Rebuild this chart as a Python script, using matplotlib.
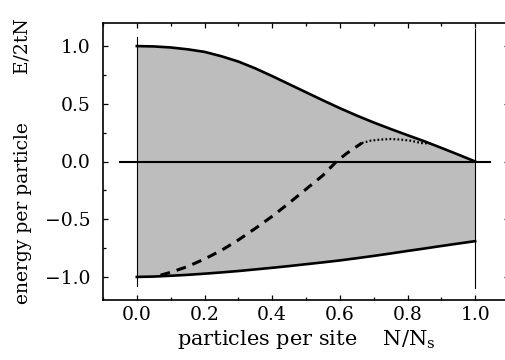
import matplotlib
matplotlib.use("Agg")
import matplotlib.pyplot as plt
from matplotlib.ticker import MultipleLocator

# Data
n_grid = [0.0, 0.05, 0.1, 0.15, 0.2, 0.25, 0.3, 0.35, 0.4, 0.45, 0.5,
          0.55, 0.6, 0.65, 0.7, 0.75, 0.8, 0.85, 0.9, 0.95, 1.0]
upper = [1.0, 0.997, 0.988, 0.972, 0.95, 0.912, 0.866, 0.807, 0.74, 0.67, 0.60,
         0.53, 0.462, 0.398, 0.338, 0.282, 0.228, 0.175, 0.118, 0.06, 0.0]
lower = [-1.0, -0.997, -0.99, -0.982, -0.972, -0.961, -0.949, -0.935, -0.921, -0.906, -0.89,
         -0.874, -0.857, -0.838, -0.818, -0.797, -0.775, -0.754, -0.732, -0.711, -0.69]

n_dashed = [0.07, 0.1, 0.15, 0.2, 0.25, 0.3, 0.35, 0.4, 0.45, 0.5, 0.55, 0.59, 0.62, 0.665]
e_dashed = [-0.985, -0.96, -0.91, -0.845, -0.77, -0.68, -0.58, -0.475, -0.36, -0.24, -0.12, 0.0, 0.07, 0.16]

n_dotted = [0.665, 0.69, 0.72, 0.75, 0.78, 0.81, 0.84, 0.87]
e_dotted = [0.16, 0.18, 0.19, 0.195, 0.19, 0.18, 0.16, 0.155]

x_ticks = [0.0, 0.2, 0.4, 0.6, 0.8, 1.0]
y_ticks = [-1.0, -0.5, 0.0, 0.5, 1.0]

plt.rcParams['font.family'] = ['DejaVu Serif']
plt.rcParams['font.size'] = 13.5

fig = plt.figure(figsize=(5.05, 3.6), dpi=100)
ax = fig.add_axes([103/505, 60/360, 406/505, 277/360])

ax.fill_between(n_grid, lower, upper, color='#bdbdbd', linewidth=0, zorder=1)
ax.plot(n_grid, upper, color='black', lw=1.9, zorder=3)
ax.plot(n_grid, lower, color='black', lw=1.9, zorder=3)
ax.plot([-0.05, 1.045], [0, 0], color='black', lw=1.5, zorder=3)
ax.plot([0, 0], [-1.08, 1.08], color='black', lw=0.8, zorder=2)
ax.plot([1, 1], [-1.1, 1.15], color='black', lw=0.8, zorder=2)
ax.plot(n_dashed, e_dashed, color='black', lw=2.2, dashes=(3.2, 2.3), zorder=4)
ax.plot(n_dotted, e_dotted, color='black', lw=1.6, dashes=(0.8, 1.0), zorder=4)

ax.set_xlim(-0.1, 1.1)
ax.set_ylim(-1.2, 1.2)
ax.set_xticks(x_ticks)
ax.set_yticks(y_ticks)
ax.set_xticklabels([f"{v:.1f}" for v in x_ticks])
ax.set_yticklabels([f"{v:.1f}".replace('-', '\u2212') for v in y_ticks])
ax.xaxis.set_minor_locator(MultipleLocator(0.1))
ax.yaxis.set_minor_locator(MultipleLocator(0.25))
ax.tick_params(which='both', direction='in', top=True, right=True, width=0.9)
ax.tick_params(which='major', length=3.6)
ax.tick_params(which='minor', length=2.2)
ax.tick_params(axis='x', which='major', pad=4)
ax.tick_params(axis='y', which='major', pad=9)
for s in ax.spines.values():
    s.set_linewidth(1.2)

ax.set_xlabel("particles per site    N/N$_\\mathregular{s}$", fontsize=15, labelpad=3)
ax.set_ylabel("energy per particle        E/2tN", fontsize=13.5, labelpad=9)

fig.savefig("out.png", dpi=100)
